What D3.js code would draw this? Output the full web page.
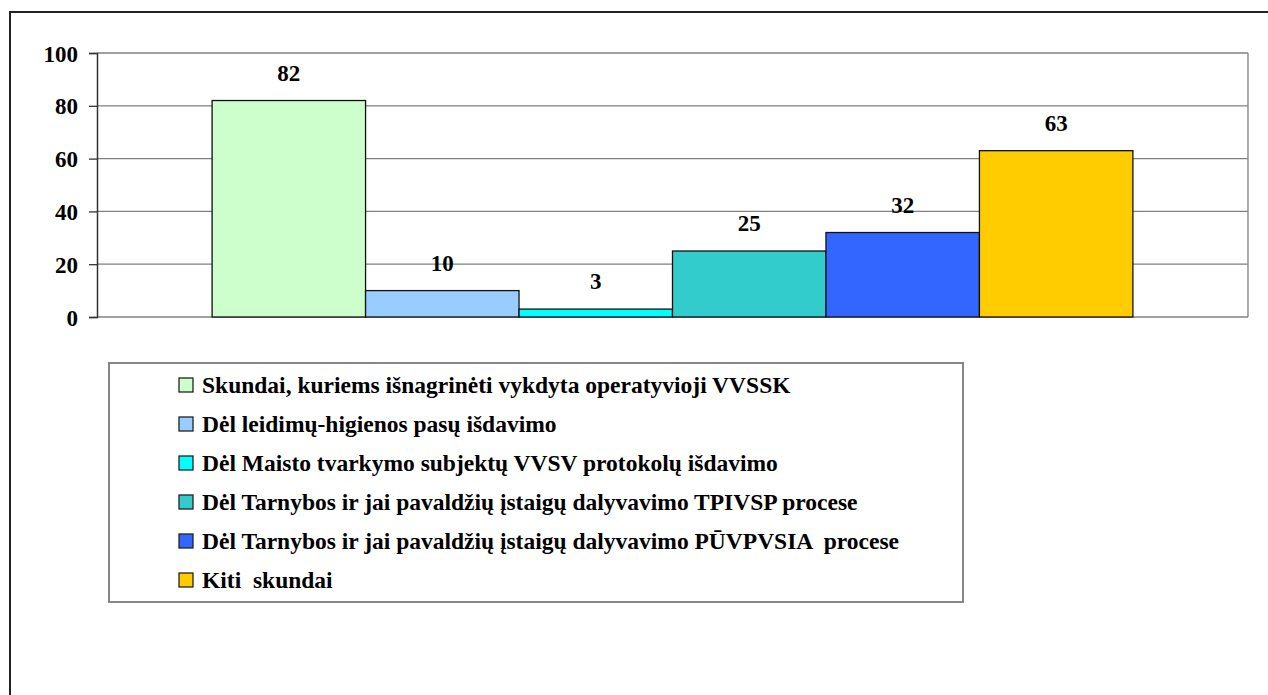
<!DOCTYPE html>
<html>
<head>
<meta charset="utf-8">
<script src="https://cdn.jsdelivr.net/npm/d3@7"></script>
<style>
  body { margin: 0; background: #fff; }
</style>
</head>
<body>
<div id="chart"></div>
<script>
var seriesNames = [
  'Skundai, kuriems išnagrinėti vykdyta operatyvioji VVSSK',
  'Dėl leidimų-higienos pasų išdavimo',
  'Dėl Maisto tvarkymo subjektų VVSV protokolų išdavimo',
  'Dėl Tarnybos ir jai pavaldžių įstaigų dalyvavimo TPIVSP procese',
  'Dėl Tarnybos ir jai pavaldžių įstaigų dalyvavimo PŪVPVSIA  procese',
  'Kiti  skundai'
];
var seriesValues = [82, 10, 3, 25, 32, 63];
var seriesColors = ['#CCFFCC', '#99CCFF', '#00FFFF', '#33CCCC', '#3366FF', '#FFCC00'];
var yTicks = [0, 20, 40, 60, 80, 100];

var width = 1268;
var height = 695;
var plot = {left: 97, right: 1248, top: 53, bottom: 317};
var serif = '"Liberation Serif"';

var svg = d3.select('#chart')
    .append('svg')
    .attr('width', width)
    .attr('height', height);

// outer chart frame (only top and left edges visible)
svg.append('path')
    .attr('d', 'M10,700 L10,12 L1270,12')
    .attr('fill', 'none')
    .attr('stroke', '#222')
    .attr('stroke-width', 2);

var x = d3.scaleBand()
    .domain(seriesNames)
    .range([plot.left, plot.right])
    .paddingInner(0)
    .paddingOuter(0.75);

var y = d3.scaleLinear()
    .domain([0, 100])
    .range([plot.bottom, plot.top]);

// gridlines
svg.append('g')
    .selectAll('line')
    .data(yTicks)
    .enter()
    .append('line')
    .attr('x1', plot.left)
    .attr('x2', plot.right)
    .attr('y1', function(d){ return y(d); })
    .attr('y2', function(d){ return y(d); })
    .attr('stroke', '#808080')
    .attr('stroke-width', 1.3);

// right border of plot area
svg.append('line')
    .attr('x1', plot.right)
    .attr('x2', plot.right)
    .attr('y1', plot.top)
    .attr('y2', plot.bottom)
    .attr('stroke', '#808080')
    .attr('stroke-width', 1.3);

svg.selectAll('.bar')
    .data(seriesValues)
    .enter()
    .append('rect')
    .attr('class', 'bar')
    .attr('x', function(d, i){ return x(seriesNames[i]); })
    .attr('y', function(d){ return y(d); })
    .attr('width', x.bandwidth())
    .attr('height', function(d){ return y(0) - y(d); })
    .attr('fill', function(d, i){ return seriesColors[i]; })
    .attr('stroke', '#111')
    .attr('stroke-width', 1.3);

svg.selectAll('.label')
    .data(seriesValues)
    .enter()
    .append('text')
    .attr('class', 'label')
    .attr('x', function(d, i){ return x(seriesNames[i]) + x.bandwidth()/2; })
    .attr('y', function(d){ return y(d) - 20; })
    .attr('text-anchor', 'middle')
    .style('font-family', serif)
    .style('font-weight', 'bold')
    .style('font-size', '23px')
    .text(function(d){ return d; });

var yAxis = svg.append('g')
    .attr('transform', 'translate(' + plot.left + ',0)')
    .call(d3.axisLeft(y).tickValues(yTicks).tickSize(8).tickPadding(11).tickFormat(d3.format('d')));
yAxis.select('.domain').attr('stroke', '#333').attr('stroke-width', 1.5);
yAxis.selectAll('.tick line').attr('stroke', '#333').attr('stroke-width', 1.3);
yAxis.selectAll('.tick text')
    .style('font-family', serif)
    .style('font-weight', 'bold')
    .style('font-size', '23px')
    .attr('dy', '0.35em');

// legend
var legendBox = {x: 109, y: 363, w: 854, h: 239};
svg.append('rect')
    .attr('x', legendBox.x)
    .attr('y', legendBox.y)
    .attr('width', legendBox.w)
    .attr('height', legendBox.h)
    .attr('fill', '#fff')
    .attr('stroke', '#7a7a7a')
    .attr('stroke-width', 1.8);

var legend = svg.selectAll('.legend')
    .data(seriesNames)
    .enter()
    .append('g')
    .attr('class', 'legend')
    .attr('transform', function(d, i){
        return 'translate(179,' + (385 + i * 39) + ')';
    });

legend.append('rect')
    .attr('x', 0)
    .attr('y', -7)
    .attr('width', 14)
    .attr('height', 14)
    .attr('fill', function(d, i){ return seriesColors[i]; })
    .attr('stroke', '#222')
    .attr('stroke-width', 1.3);

legend.append('text')
    .attr('x', 23)
    .attr('y', 0)
    .attr('dy', '0.33em')
    .style('font-family', serif)
    .style('font-weight', 'bold')
    .style('font-size', '23.5px')
    .style('white-space', 'pre')
    .text(function(d){ return d; });
</script>
</body>
</html>
